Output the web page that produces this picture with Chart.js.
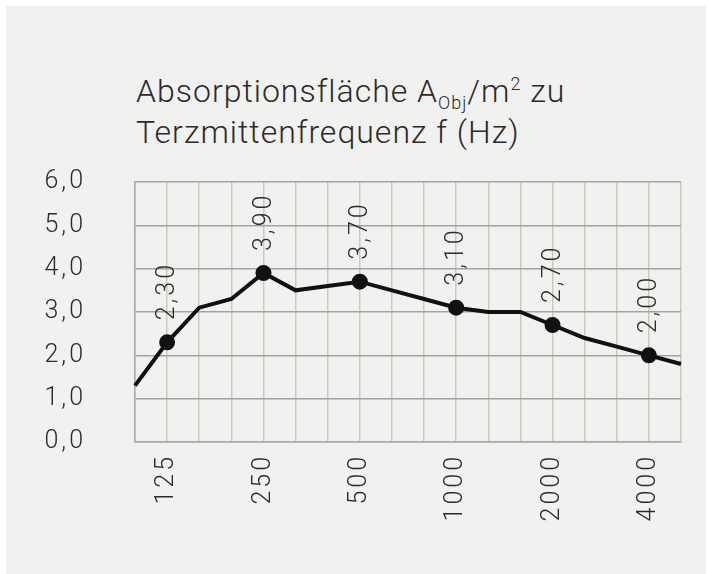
<!DOCTYPE html>
<html>
<head>
<meta charset="utf-8">
<script src="https://cdn.jsdelivr.net/npm/chart.js@4"></script>
<style>
  html, body { margin: 0; padding: 0; background: #fff; }
  #wrap { position: absolute; left: 6px; top: 6px; right: 3px; bottom: 0; background: #f1f1f0; }
  #title { position: absolute; left: 136px; top: 71px; font-family: Roboto, sans-serif; font-size: 32px;
           line-height: 41px; color: #2b2b2b; font-weight: 300; letter-spacing: 1px; }
  #title sub { font-size: 18px; vertical-align: -7px; line-height: 0; }
  #title sup { font-size: 18px; vertical-align: 12px; line-height: 0; }
  canvas { position: absolute; left: 0; top: 0; }
</style>
</head>
<body>
<div id="wrap"></div>
<div id="title">Absorptionsfläche A<sub>Obj</sub>/m<sup>2</sup> zu<br>Terzmittenfrequenz f (Hz)</div>
<canvas id="myChart" width="709" height="574"></canvas>
<script>
// Terzmittenfrequenzen
var freqs = ['100', '125', '160', '200', '250', '315', '400', '500', '630', '800',
             '1000', '1250', '1600', '2000', '2500', '3150', '4000', '5000']
var absorption = [1.3, 2.3, 3.1, 3.3, 3.9, 3.5, 3.6, 3.7, 3.5, 3.3,
                  3.1, 3.0, 3.0, 2.7, 2.4, 2.2, 2.0, 1.8]
var shownTicks = ['125', '250', '500', '1000', '2000', '4000']

function komma(v, d) {
    return v.toFixed(d).replace('.', ',')
}

// DIN-artige Laufweite
var spacing = {
    id: 'spacing',
    beforeInit: function (chart) { chart.ctx.letterSpacing = '3px' },
    beforeDraw: function (chart) { chart.ctx.letterSpacing = '3px' }
}

var valueLabels = {
    id: 'valueLabels',
    afterDatasetsDraw: function (chart) {
        var ctx = chart.ctx
        var meta = chart.getDatasetMeta(0)
        ctx.save()
        ctx.fillStyle = '#2b2b2b'
        ctx.font = '300 25px Roboto'
        ctx.letterSpacing = '3px'
        ctx.textAlign = 'left'
        ctx.textBaseline = 'middle'
        for (var i = 0; i < freqs.length; i++) {
            if (shownTicks.indexOf(freqs[i]) < 0) continue
            var p = meta.data[i]
            ctx.save()
            ctx.translate(p.x + 1, p.y - 22)
            ctx.rotate(-Math.PI / 2)
            ctx.fillText(komma(absorption[i], 2), 0, 0)
            ctx.restore()
        }
        ctx.restore()
    }
}

const data = {
    labels: freqs,
    datasets: [{
        data: absorption,
        borderColor: '#111',
        backgroundColor: '#111',
        borderWidth: 4,
        tension: 0,
        pointRadius: freqs.map(function (f) { return shownTicks.indexOf(f) >= 0 ? 6 : 0 }),
        pointHoverRadius: 0,
        clip: false
    }]
}

const config = {
    type: 'line',
    data: data,
    options: {
        responsive: false,
        animation: false,
        events: [],
        layout: { padding: { top: 182, right: 28, left: 0, bottom: 0 } },
        plugins: { legend: { display: false }, tooltip: { enabled: false } },
        scales: {
            x: {
                offset: false,
                afterFit: function (s) {
                    s.height = 132
                    s.paddingLeft = 0
                    s.paddingRight = 0
                },
                grid: { color: '#cdc9bd', lineWidth: 1.5, drawTicks: false },
                border: { color: '#a9a9a9', width: 1.5 },
                ticks: {
                    autoSkip: false,
                    maxRotation: 90,
                    minRotation: 90,
                    padding: 12,
                    color: '#2b2b2b',
                    font: { family: 'Roboto', size: 25, weight: '300' },
                    callback: function (v, i) {
                        return shownTicks.indexOf(freqs[i]) >= 0 ? freqs[i] : ''
                    }
                }
            },
            y: {
                min: 0,
                max: 6,
                afterFit: function (s) {
                    s.width = 135
                    s.paddingTop = 0
                    s.paddingBottom = 0
                },
                grid: { color: '#a3a3a3', lineWidth: 1.5, drawTicks: false },
                border: { color: '#a9a9a9', width: 1.5 },
                ticks: {
                    stepSize: 1,
                    padding: 49,
                    color: '#2b2b2b',
                    font: { family: 'Roboto', size: 25, weight: '300' },
                    callback: function (v) { return komma(v, 1) }
                }
            }
        }
    },
    plugins: [spacing, valueLabels]
}

const myChart = new Chart(document.getElementById('myChart'), config)
</script>
</body>
</html>
